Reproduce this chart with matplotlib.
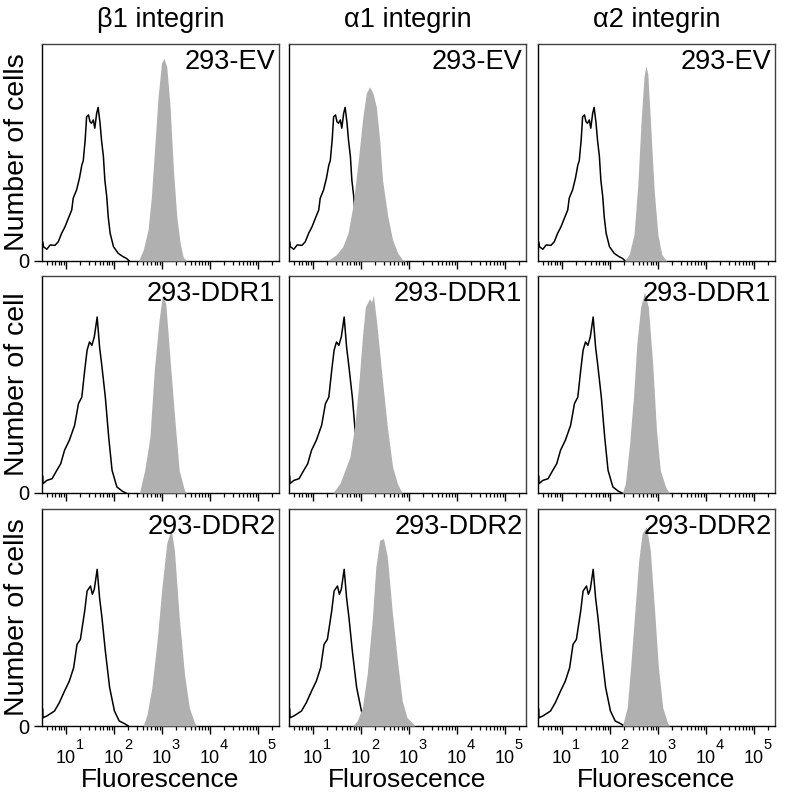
import matplotlib
matplotlib.use('Agg')
import matplotlib.pyplot as plt
import matplotlib.transforms as mtransforms
import numpy as np
from matplotlib.ticker import FixedLocator, LogLocator, NullFormatter

plt.rcParams['font.family'] = ['Liberation Sans', 'DejaVu Sans']

# column / row labels
markers = ['β1 integrin', 'α1 integrin', 'α2 integrin']
cell_lines = ['293-EV', '293-DDR1', '293-DDR2']
y_labels = ['Number of cells', 'Number of cell', 'Number of cells']
x_labels = ['Fluorescence', 'Flurosecence', 'Fluorescence']
decade_ticks = [1e1, 1e2, 1e3, 1e4, 1e5]
decade_exps = ['1', '2', '3', '4', '5']

# isotype control (black outline), log10 fluorescence vs relative cell count
ctrl_ev_log = [0.50, 0.51, 0.53, 0.60, 0.67, 0.77, 0.84, 0.91, 0.98, 1.05, 1.12, 1.15,
               1.22, 1.28, 1.33, 1.36, 1.40, 1.43, 1.47, 1.50, 1.53, 1.57, 1.60, 1.64,
               1.67, 1.71, 1.74, 1.78, 1.81, 1.85, 1.88, 1.92, 1.99, 2.09, 2.19, 2.26, 2.32]
ctrl_ev_cnt = [0.00, 0.09, 0.066, 0.054, 0.074, 0.072, 0.089, 0.128, 0.158, 0.197, 0.235, 0.289,
               0.327, 0.381, 0.442, 0.462, 0.558, 0.665, 0.673, 0.642, 0.635, 0.650, 0.612, 0.681,
               0.708, 0.635, 0.558, 0.481, 0.373, 0.296, 0.204, 0.128, 0.066, 0.035, 0.020, 0.012, 0.0]

ctrl_ddr1_log = [0.50, 0.51, 0.52, 0.60, 0.71, 0.81, 0.89, 0.97, 1.07, 1.18, 1.26, 1.33, 1.39,
                 1.44, 1.49, 1.54, 1.59, 1.65, 1.70, 1.75, 1.82, 1.89, 1.96, 2.06, 2.17, 2.25]
ctrl_ddr1_cnt = [0.0, 0.08, 0.043, 0.058, 0.066, 0.105, 0.135, 0.197, 0.243, 0.312, 0.412, 0.442, 0.565,
                 0.658, 0.696, 0.681, 0.719, 0.811, 0.673, 0.581, 0.442, 0.258, 0.105, 0.028, 0.009, 0.0]

ctrl_ddr2_log = [0.50, 0.51, 0.52, 0.60, 0.76, 0.86, 0.97, 1.07, 1.16, 1.23, 1.30, 1.39, 1.44,
                 1.51, 1.55, 1.59, 1.65, 1.70, 1.75, 1.82, 1.91, 2.01, 2.11, 2.22, 2.30]
ctrl_ddr2_cnt = [0.0, 0.08, 0.038, 0.046, 0.069, 0.107, 0.161, 0.207, 0.269, 0.376, 0.399, 0.530, 0.622,
                 0.645, 0.607, 0.630, 0.722, 0.591, 0.499, 0.346, 0.177, 0.069, 0.023, 0.011, 0.0]

# stained samples (grey fill)
b1_ev_log = [2.51, 2.61, 2.71, 2.78, 2.85, 2.92, 2.99, 3.04, 3.10, 3.17, 3.24, 3.31, 3.38, 3.44, 3.51]
b1_ev_cnt = [0, 0.051, 0.143, 0.296, 0.527, 0.757, 0.911, 0.934, 0.896, 0.711, 0.419, 0.204, 0.082, 0.020, 0]
a1_ev_log = [1.30, 1.48, 1.62, 1.73, 1.83, 1.93, 2.04, 2.11, 2.18, 2.25, 2.32, 2.39, 2.45, 2.56,
             2.66, 2.77, 2.87, 2.95]
a1_ev_cnt = [0, 0.028, 0.066, 0.128, 0.250, 0.435, 0.665, 0.773, 0.803, 0.773, 0.711, 0.558, 0.373, 0.204,
             0.097, 0.035, 0.005, 0]
a2_ev_log = [2.30, 2.40, 2.50, 2.58, 2.65, 2.71, 2.75, 2.79, 2.85, 2.92, 3.00, 3.08, 3.18]
a2_ev_cnt = [0, 0.03, 0.12, 0.35, 0.65, 0.85, 0.90, 0.86, 0.62, 0.33, 0.12, 0.03, 0]

b1_ddr1_log = [2.53, 2.64, 2.75, 2.84, 2.94, 3.01, 3.08, 3.16, 3.27, 3.36, 3.47, 3.52]
b1_ddr1_cnt = [0, 0.104, 0.258, 0.565, 0.796, 0.911, 0.873, 0.642, 0.335, 0.104, 0.012, 0]
a1_ddr1_log = [1.41, 1.56, 1.77, 1.875, 1.96, 2.03, 2.09, 2.18, 2.22, 2.26, 2.33, 2.44, 2.55,
               2.66, 2.76, 2.86]
a1_ddr1_cnt = [0, 0.043, 0.166, 0.32, 0.519, 0.719, 0.857, 0.896, 0.88, 0.911, 0.78, 0.535, 0.304,
               0.12, 0.043, 0.0]
a2_ddr1_log = [2.26, 2.32, 2.41, 2.49, 2.56, 2.64, 2.72, 2.80, 2.89, 2.97, 3.05, 3.16, 3.24]
a2_ddr1_cnt = [0, 0.043, 0.227, 0.442, 0.688, 0.857, 0.926, 0.857, 0.596, 0.289, 0.104, 0.028, 0]

b1_ddr2_log = [2.61, 2.69, 2.79, 2.90, 3.00, 3.10, 3.19, 3.26, 3.36, 3.47, 3.57, 3.68, 3.72]
b1_ddr2_cnt = [0, 0.054, 0.177, 0.394, 0.640, 0.841, 0.910, 0.810, 0.502, 0.239, 0.085, 0.015, 0]
a1_ddr2_log = [1.82, 1.92, 2.03, 2.13, 2.24, 2.31, 2.39, 2.47, 2.55, 2.65, 2.76, 2.86, 2.96,
               3.07, 3.12]
a1_ddr2_cnt = [0, 0.023, 0.085, 0.239, 0.502, 0.733, 0.856, 0.864, 0.779, 0.532, 0.301, 0.116, 0.039,
               0.015, 0]
a2_ddr2_log = [2.26, 2.36, 2.43, 2.52, 2.60, 2.67, 2.76, 2.84, 2.93, 3.01, 3.10, 3.20, 3.24]
a2_ddr2_cnt = [0, 0.085, 0.27, 0.532, 0.764, 0.887, 0.918, 0.81, 0.532, 0.27, 0.085, 0.015, 0]

controls = [(ctrl_ev_log, ctrl_ev_cnt), (ctrl_ddr1_log, ctrl_ddr1_cnt), (ctrl_ddr2_log, ctrl_ddr2_cnt)]
stains = [
    [(b1_ev_log, b1_ev_cnt), (a1_ev_log, a1_ev_cnt), (a2_ev_log, a2_ev_cnt)],
    [(b1_ddr1_log, b1_ddr1_cnt), (a1_ddr1_log, a1_ddr1_cnt), (a2_ddr1_log, a2_ddr1_cnt)],
    [(b1_ddr2_log, b1_ddr2_cnt), (a1_ddr2_log, a1_ddr2_cnt), (a2_ddr2_log, a2_ddr2_cnt)],
]

W, H = 786, 796
fig = plt.figure(figsize=(W / 100, H / 100), dpi=100)

# panel geometry in pixels
col_left = [42, 289, 538]
row_top = [44, 276, 509]
pw, ph = 237, 217


def px(dx, dy):
    # offset in pixels (figure at 100 dpi)
    return mtransforms.ScaledTranslation(dx / 100, dy / 100, fig.dpi_scale_trans)


for r in range(3):
    for c in range(3):
        ax = fig.add_axes([col_left[c] / W, 1 - (row_top[r] + ph) / H, pw / W, ph / H])

        clog, ccnt = controls[r]
        ax.plot(10 ** np.array(clog), ccnt, color='black', lw=1.1, zorder=2)

        slog, scnt = stains[r][c]
        ax.fill_between(10 ** np.array(slog), scnt, 0, color='#b0b0b0', lw=0, zorder=3)

        ax.set_xscale('log')
        ax.set_xlim(10 ** 0.5, 10 ** 5.44)
        ax.set_ylim(0, 1)

        ax.xaxis.set_major_locator(FixedLocator(decade_ticks))
        ax.xaxis.set_minor_locator(LogLocator(base=10, subs=np.arange(2, 10), numticks=20))
        ax.xaxis.set_minor_formatter(NullFormatter())
        ax.tick_params(axis='x', which='major', direction='out', length=5.5, width=1,
                       labelbottom=False)
        ax.tick_params(axis='x', which='minor', direction='out', length=3, width=0.9)

        if r == 2:
            # "10" centred on the tick, exponent raised clear of it
            tr = mtransforms.blended_transform_factory(ax.transData, ax.transAxes)
            for t, e in zip(decade_ticks, decade_exps):
                ax.text(t, 0, '10', transform=tr + px(0, -37), ha='center', va='baseline',
                        fontsize=13)
                ax.text(t, 0, e, transform=tr + px(10, -23), ha='left', va='baseline',
                        fontsize=10.5)
            ax.set_xlabel(x_labels[c], fontsize=19)
            ax.xaxis.set_label_coords(0.5, -0.195)

        if c == 0:
            ax.set_yticks([0])
            ax.set_yticklabels(['0'])
            ax.tick_params(axis='y', direction='out', length=6, width=1, pad=3, labelsize=14.5)
            ax.set_ylabel(y_labels[r], fontsize=20.5)
            ax.yaxis.set_label_coords(-0.05, 0.5)
        else:
            ax.set_yticks([])

        if r == 0:
            ax.set_title(markers[c], fontsize=19.5, pad=12)

        ax.text(0.985, 0.975, cell_lines[r], transform=ax.transAxes, ha='right', va='top',
                fontsize=19.5, zorder=5)

        for s in ax.spines.values():
            s.set_color('#404040')
            s.set_linewidth(1.0)
        ax.spines['left'].set_color('black')
        ax.spines['bottom'].set_color('black')

fig.savefig('out.png', dpi=100)
